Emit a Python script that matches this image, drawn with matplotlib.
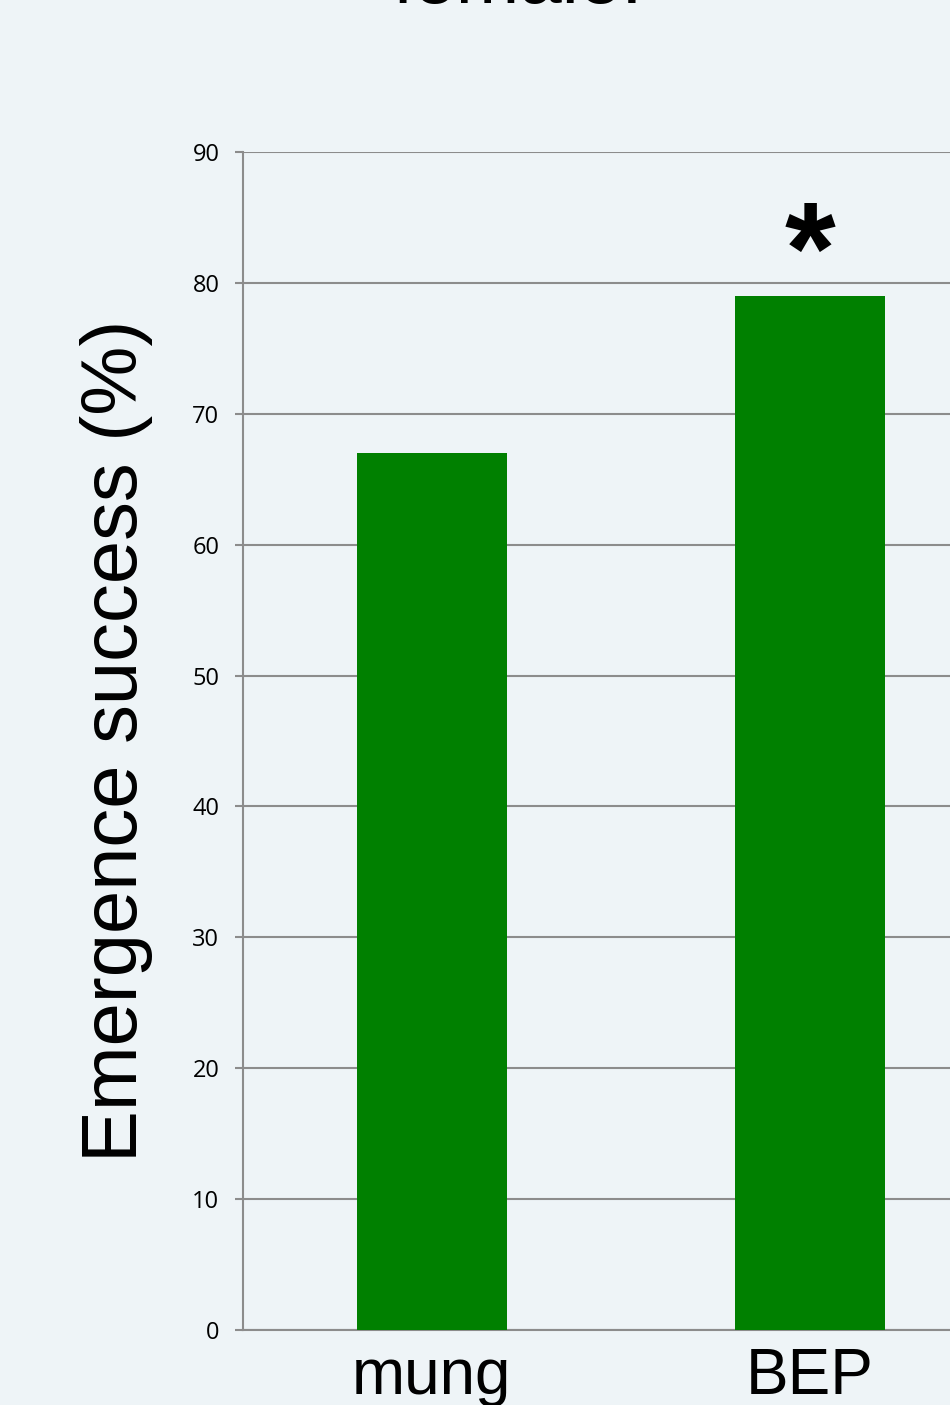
import numpy as np
import matplotlib.pyplot as plt

# data
categories = ['mung', 'BEP']
emergence = [67, 79]
y_ticks = list(range(0, 100, 10))
title_text = 'female:'

bg = '#eef4f7'
grid_col = '#8c8c8c'
bar_col = '#008000'

fig = plt.figure(figsize=(9.5, 14.05), dpi=100, facecolor=bg)
# axes run past the right edge, like the cropped original
ax = fig.add_axes([243 / 950, 75 / 1405, 756 / 950, 1178 / 1405])
ax.set_facecolor(bg)

x = np.arange(len(categories))
ax.bar(x, emergence, width=150 / 378, color=bar_col, zorder=3)

ax.set_xlim(-0.5, len(categories) - 0.5)
ax.set_ylim(0, 90)
ax.set_yticks(y_ticks)
ax.set_yticklabels([str(v) for v in y_ticks], fontsize=17, family='Open Sans')
ax.set_xticks(x)
ax.set_xticklabels(categories, fontsize=46, family='Liberation Sans')

ax.yaxis.grid(True, color=grid_col, linewidth=1.5, zorder=0)
for s in ['top', 'right']:
    ax.spines[s].set_visible(False)
for s in ['left', 'bottom']:
    ax.spines[s].set_color(grid_col)
    ax.spines[s].set_linewidth(1.5)
ax.tick_params(axis='y', length=6, width=1.5, color=grid_col, pad=11)
ax.tick_params(axis='x', length=0, pad=12)

ax.set_ylabel('Emergence success (%)', fontsize=56, family='Liberation Sans', labelpad=28)

# significance marker above the BEP bar
ax.annotate('*', xy=(1, emergence[1]), xytext=(0, -18), textcoords='offset points',
            ha='center', va='bottom', fontsize=94, fontweight='bold',
            family='Liberation Sans')

# title sits mostly above the cropped top edge
fig.text(518 / 950, 1 - 3 / 1405, title_text, ha='center', va='baseline',
         fontsize=55, family='Liberation Sans')

fig.savefig('out.png', dpi=100, facecolor=bg)
